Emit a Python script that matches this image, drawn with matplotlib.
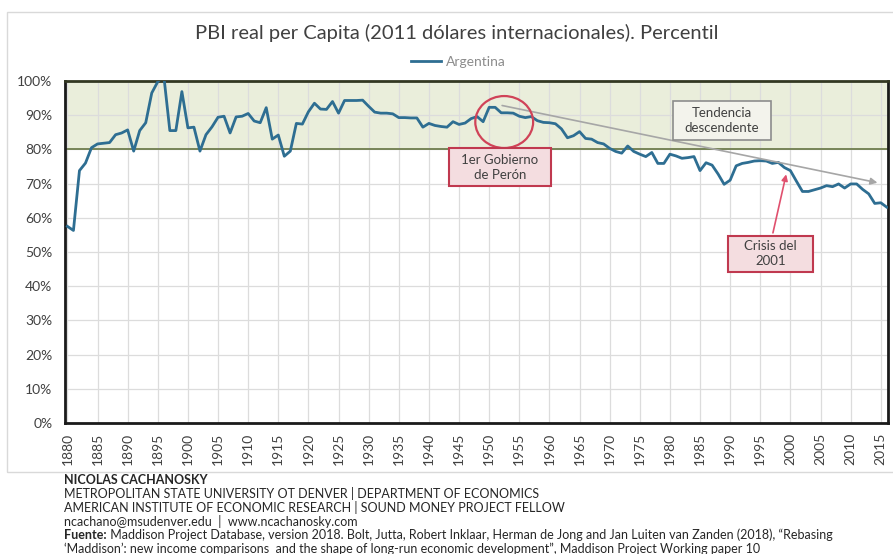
import matplotlib.pyplot as plt
from matplotlib.patches import Rectangle, Ellipse
from matplotlib.lines import Line2D

# PBI real per capita de Argentina como percentil (1880-2016)
years = list(range(1880, 2017))
argentina = [
    57.5, 56.3, 73.8, 76.0, 80.5, 81.6, 81.8, 82.0, 84.3, 84.8,   # 1880-1889
    85.7, 79.5, 85.5, 87.8, 96.5, 99.8, 101.5, 85.5, 85.5, 96.9,  # 1890-1899
    86.3, 86.5, 79.5, 84.3, 86.6, 89.4, 89.7, 84.8, 89.5, 89.7,   # 1900-1909
    90.5, 88.3, 87.8, 92.2, 83.0, 84.2, 78.0, 79.5, 87.6, 87.4,   # 1910-1919
    91.0, 93.5, 91.8, 91.7, 94.0, 90.6, 94.3, 94.3, 94.3, 94.4,   # 1920-1929
    92.6, 90.9, 90.6, 90.6, 90.4, 89.3, 89.3, 89.2, 89.2, 86.5,   # 1930-1939
    87.6, 87.0, 86.7, 86.5, 88.1, 87.3, 87.7, 89.0, 89.6, 88.1,   # 1940-1949
    92.3, 92.3, 90.7, 90.7, 90.6, 89.7, 89.3, 89.6, 88.4, 87.9,   # 1950-1959
    87.8, 87.5, 86.0, 83.4, 84.0, 85.2, 83.2, 83.0, 82.0, 81.6,   # 1960-1969
    80.3, 79.4, 78.9, 81.0, 79.4, 78.6, 77.9, 79.1, 75.9, 75.9,   # 1970-1979
    78.6, 78.1, 77.4, 77.6, 77.9, 73.8, 76.1, 75.4, 72.8, 69.8,   # 1980-1989
    71.0, 75.2, 75.9, 76.2, 76.6, 76.7, 76.6, 75.9, 76.2, 74.7,   # 1990-1999
    73.8, 70.7, 67.7, 67.7, 68.2, 68.7, 69.4, 69.1, 69.9, 68.7,   # 2000-2009
    69.9, 69.9, 68.3, 67.0, 64.2, 64.4, 63.1,                     # 2010-2016
]
x_ticks = list(range(1880, 2016, 5))
y_ticks = list(range(0, 101, 10))

title = "PBI real per Capita (2011 dólares internacionales). Percentil"
footer = [
    ("NICOLAS CACHANOSKY", None),
    ("METROPOLITAN STATE UNIVERSITY OT DENVER | DEPARTMENT OF ECONOMICS", None),
    ("AMERICAN INSTITUTE OF ECONOMIC RESEARCH | SOUND MONEY PROJECT FELLOW", None),
    ("ncachano@msudenver.edu  |  www.ncachanosky.com", None),
    ("Fuente:", " Maddison Project Database, version 2018. Bolt, Jutta, Robert Inklaar, "
               "Herman de Jong and Jan Luiten van Zanden (2018), \u201cRebasing"),
    ("\u2018Maddison\u2019: new income comparisons  and the shape of long-run economic "
     "development\u201d, Maddison Project Working paper 10", None),
]

plt.rcParams['font.family'] = ['Lato', 'DejaVu Sans']

fig = plt.figure(figsize=(8.93, 5.54), dpi=100)
W, H = 893, 554
ax = fig.add_axes([65 / W, 1 - 423 / H, (888 - 65) / W, (423 - 81) / H])

# chart area border
fig.add_artist(Rectangle((7 / W, 1 - 472 / H), 1.0, (472 - 12) / H,
                         transform=fig.transFigure, fill=False,
                         edgecolor='#d9d9d9', linewidth=1))

ax.axhspan(80, 100, facecolor='#eaeedb', edgecolor='none', zorder=0)
ax.axhline(80, color='#6f7d4e', linewidth=1.3, zorder=1)

line_color = '#2e6e92'
ax.plot(years, argentina, color=line_color, linewidth=2, zorder=4)

ax.set_xlim(1879.6, 2016.2)
ax.set_ylim(0, 100)
ax.set_xticks(x_ticks)
ax.set_xticklabels([str(t) for t in x_ticks], rotation=90)
ax.set_yticks(y_ticks)
ax.set_yticklabels([f"{t}%" for t in y_ticks])
ax.tick_params(axis='both', length=0, labelsize=10, colors='#404040')
ax.tick_params(axis='x', pad=7)
ax.tick_params(axis='y', pad=9)
ax.grid(True, color='#dcdcdc', linewidth=0.9, zorder=0)
ax.set_axisbelow(True)
for s in ax.spines.values():
    s.set_color('#1a1a1a')
    s.set_linewidth(2)
ax.spines['top'].set_color('#333822')

# trend arrow
ax.annotate("", xy=(2014.9, 70.1), xytext=(1951.7, 93.0),
            arrowprops=dict(arrowstyle='-|>', color='#a6a6a6', lw=1.2,
                            mutation_scale=10), zorder=5)

# Peron circle and box
ax.add_patch(Ellipse((1952.5, 88.0), 9.6, 15.2, fill=False,
                     edgecolor='#d04358', linewidth=1.6, zorder=6))
ax.add_patch(Rectangle((1943.3, 69.3), 16.9, 11.1, facecolor='#f4dde0',
                       edgecolor='#c0394f', linewidth=1.5, zorder=6))
ax.text(1951.75, 74.85, "1er Gobierno\nde Perón", ha='center', va='center',
        fontsize=9.5, color='#404040', linespacing=1.3, zorder=7)

# Tendencia box
ax.add_patch(Rectangle((1980.5, 82.7), 16.2, 11.5, facecolor='#f3f3ec',
                       edgecolor='#8c8c8c', linewidth=1.2, zorder=6))
ax.text(1988.6, 88.45, "Tendencia\ndescendente", ha='center', va='center',
        fontsize=9.5, color='#404040', linespacing=1.3, zorder=7)

# Crisis box and arrow
ax.add_patch(Rectangle((1989.7, 44.2), 14.1, 10.6, facecolor='#f4dde0',
                       edgecolor='#c0394f', linewidth=1.5, zorder=6))
ax.text(1996.75, 49.5, "Crisis del\n2001", ha='center', va='center',
        fontsize=9.5, color='#404040', linespacing=1.3, zorder=7)
ax.annotate("", xy=(1999.4, 73.5), xytext=(1997.0, 54.8),
            arrowprops=dict(arrowstyle='-|>', color='#e0506e', lw=1.2,
                            mutation_scale=9), zorder=6)

fig.text(457 / W, 1 - 33 / H, title, ha='center', va='center',
         fontsize=14.5, color='#404040')
handle = Line2D([], [], color=line_color, linewidth=2)
ax.legend([handle], ["Argentina"], loc='center',
          bbox_to_anchor=(458 / W, 1 - 62 / H),
          bbox_transform=fig.transFigure, frameon=False, fontsize=10,
          handlelength=2.2, handletextpad=0.3, labelcolor='#8c8c8c')

y0 = 480
fs = 9.0
for i, (a, b) in enumerate(footer):
    yy = 1 - (y0 + i * 13.8) / H
    if i == 0:
        fig.text(64 / W, yy, a, fontsize=fs, fontweight='bold',
                 color='#262626', va='center')
    elif b is not None:
        t = fig.text(64 / W, yy, a, fontsize=fs, fontweight='bold',
                     color='#262626', va='center')
        fig.canvas.draw()
        bb = t.get_window_extent()
        fig.text(bb.x1 / W, yy, b, fontsize=fs, color='#262626', va='center')
    else:
        fig.text(64 / W, yy, a, fontsize=fs, color='#262626', va='center')

fig.savefig("out.png", dpi=100)
